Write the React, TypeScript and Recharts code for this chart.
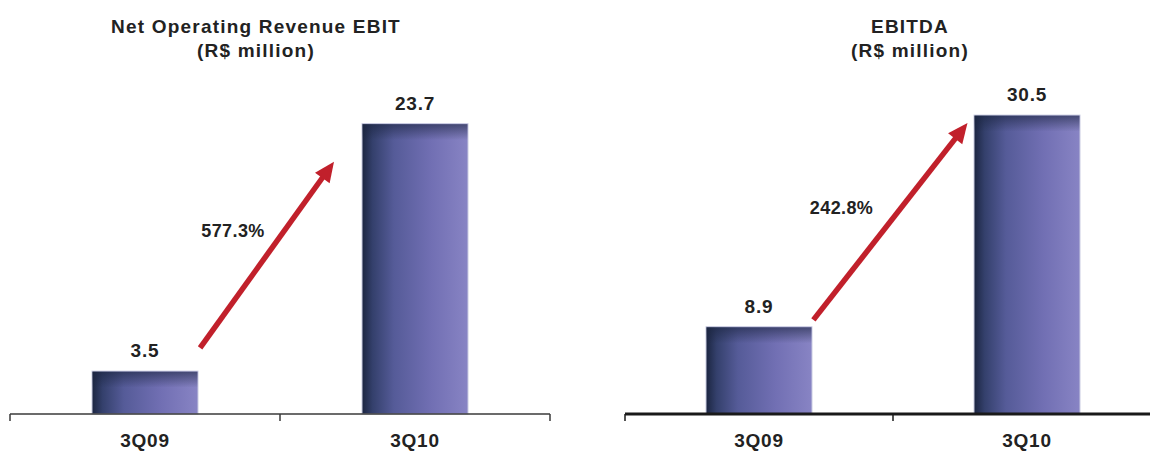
import React from "react";
import {
  BarChart,
  Bar,
  XAxis,
  YAxis,
  ReferenceLine,
  ReferenceDot,
  Label,
  LabelList,
} from "recharts";

const quarters = ["3Q09", "3Q10"];
const ebitValues = [3.5, 23.7];
const ebitdaValues = [8.9, 30.5];
const ebitGrowth = "577.3%";
const ebitdaGrowth = "242.8%";

// arrow annotations, in data units (x: category slot, y: R$ million)
const ebitArrow = [
  { x: 0.704, y: 5.4 },
  { x: 1.2, y: 20.6 },
];
const ebitLabelAt = { x: 0.826, y: 15.0 };
const ebitdaArrow = [
  { x: 0.703, y: 9.6 },
  { x: 1.278, y: 29.7 },
];
const ebitdaLabelAt = { x: 0.808, y: 21.1 };

const FONT = "'Liberation Sans', Arial, sans-serif";
const TEXT = "#222";
const RED = "#c1202b";

const toRows = (values: number[]) =>
  quarters.map((q, i) => ({ slot: i + 0.5, quarter: q, value: values[i] }));

function BarShape(props: any) {
  const { x, y, width, height } = props;
  if (!height || height <= 0) return null;
  return (
    <g>
      <rect x={x} y={y} width={width} height={height} fill="url(#barFill)" stroke="#c9cbe2" strokeWidth={1} />
      <rect x={x + 0.5} y={y + 0.5} width={width - 1} height={Math.min(16, height)} fill="url(#barTop)" />
    </g>
  );
}

function Arrow(props: any) {
  const { x1, y1, x2, y2 } = props;
  const dx = x2 - x1;
  const dy = y2 - y1;
  const len = Math.sqrt(dx * dx + dy * dy);
  const ux = dx / len;
  const uy = dy / len;
  const head = 20;
  const half = 9;
  const bx = x2 - ux * head;
  const by = y2 - uy * head;
  const px = -uy;
  const py = ux;
  return (
    <g>
      <line x1={x1} y1={y1} x2={bx + ux * 2} y2={by + uy * 2} stroke={RED} strokeWidth={5.5} />
      <polygon
        points={`${x2},${y2} ${bx + px * half},${by + py * half} ${bx - px * half},${by - py * half}`}
        fill={RED}
      />
    </g>
  );
}

function makeTick(tickLen: number, stroke: string, strokeWidth: number) {
  return function Tick(props: any) {
    const { x, y, payload } = props;
    const v = payload.value;
    if (Number.isInteger(v)) {
      return <line x1={x} y1={y} x2={x} y2={y + tickLen} stroke={stroke} strokeWidth={strokeWidth} />;
    }
    return (
      <text x={x} y={y + 33} textAnchor="middle" fontFamily={FONT} fontWeight="bold" fontSize={19} fill={TEXT} letterSpacing={0.8}>
        {quarters[Math.floor(v)]}
      </text>
    );
  };
}

interface PanelProps {
  values: number[];
  yMax: number;
  width: number;
  marginLeft: number;
  marginRight: number;
  axisColor: string;
  axisWidth: number;
  axisEnd: number;
  arrow: { x: number; y: number }[];
  labelAt: { x: number; y: number };
  growth: string;
}

function Panel(p: PanelProps) {
  const Tick = makeTick(7, p.axisColor, Math.min(p.axisWidth, 1.5));
  return (
    <BarChart
      width={p.width}
      height={458}
      data={toRows(p.values)}
      margin={{ top: 71, right: p.marginRight, bottom: 0, left: p.marginLeft }}
    >
      <defs>
        <linearGradient id="barFill" x1="0" y1="0" x2="1" y2="0">
          <stop offset="0%" stopColor="#1b2540" />
          <stop offset="10%" stopColor="#34406c" />
          <stop offset="30%" stopColor="#555b98" />
          <stop offset="65%" stopColor="#716fb3" />
          <stop offset="100%" stopColor="#8884c4" />
        </linearGradient>
        <linearGradient id="barTop" x1="0" y1="0" x2="0" y2="1">
          <stop offset="0%" stopColor="#1b2540" stopOpacity={0.6} />
          <stop offset="100%" stopColor="#1b2540" stopOpacity={0} />
        </linearGradient>
      </defs>
      <XAxis
        dataKey="slot"
        type="number"
        domain={[0, 2]}
        ticks={[0, 0.5, 1, 1.5, 2]}
        interval={0}
        height={44}
        tickLine={false}
        tickSize={0}
        tickMargin={0}
        tick={<Tick />}
        axisLine={false}
      />
      <YAxis hide domain={[0, p.yMax]} />
      <ReferenceLine
        segment={[
          { x: 0, y: 0 },
          { x: p.axisEnd, y: 0 },
        ]}
        stroke={p.axisColor}
        strokeWidth={p.axisWidth}
        ifOverflow="visible"
      />
      <Bar dataKey="value" barSize={106} shape={<BarShape />} isAnimationActive={false}>
        <LabelList
          dataKey="value"
          position="top"
          offset={14}
          fontFamily={FONT}
          fontWeight="bold"
          fontSize={19}
          letterSpacing={0.8}
          fill={TEXT}
        />
      </Bar>
      <ReferenceLine
        segment={[p.arrow[0], p.arrow[1]]}
        shape={(sp: any) => <Arrow {...sp} />}
        ifOverflow="visible"
      />
      <ReferenceDot x={p.labelAt.x} y={p.labelAt.y} r={0} fill="none" stroke="none" ifOverflow="visible">
        <Label value={p.growth} position="center" fontFamily={FONT} fontWeight="bold" fontSize={18} fill={TEXT} letterSpacing={0.4} />
      </ReferenceDot>
    </BarChart>
  );
}

const titleStyle: React.CSSProperties = {
  position: "absolute",
  top: 15,
  fontFamily: FONT,
  fontWeight: "bold",
  fontSize: 19,
  letterSpacing: 1.2,
  lineHeight: "24px",
  color: TEXT,
  textAlign: "center",
  width: 400,
};

export default function App() {
  return (
    <div style={{ position: "fixed", left: 0, top: 0, width: 1150, height: 458, overflow: "hidden", background: "#fff" }}>
      <div style={{ ...titleStyle, left: 256 - 200 }}>
        Net Operating Revenue EBIT
        <br />
        (R$ million)
      </div>
      <div style={{ ...titleStyle, left: 910 - 200 }}>
        EBITDA
        <br />
        (R$ million)
      </div>
      <div style={{ position: "absolute", left: 0, top: 0 }}>
        <Panel
          values={ebitValues}
          yMax={28}
          width={575}
          marginLeft={10}
          marginRight={25}
          axisColor="#3a3a3a"
          axisWidth={1.5}
          axisEnd={2}
          arrow={ebitArrow}
          labelAt={ebitLabelAt}
          growth={ebitGrowth}
        />
      </div>
      <div style={{ position: "absolute", left: 575, top: 0, width: 575 }}>
        <Panel
          values={ebitdaValues}
          yMax={35}
          width={575}
          marginLeft={50}
          marginRight={-11}
          axisColor="#1a1a1a"
          axisWidth={3}
          axisEnd={2}
          arrow={ebitdaArrow}
          labelAt={ebitdaLabelAt}
          growth={ebitdaGrowth}
        />
      </div>
    </div>
  );
}
